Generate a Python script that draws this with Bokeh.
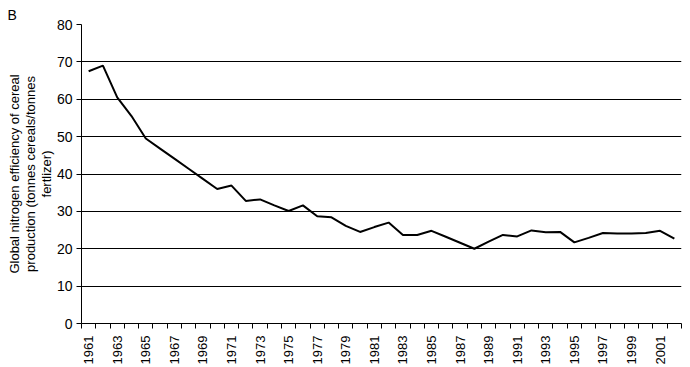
from bokeh.plotting import figure
from bokeh.models import FixedTicker, Range1d
from bokeh.embed import file_html
from bokeh.resources import INLINE
import math

years = list(range(1961, 2003))
efficiency = [67.5, 69.0, 60.5, 55.5, 49.5, 46.8, 44.1, 41.4, 38.7, 36.0,
              36.9, 32.8, 33.2, 31.6, 30.1, 31.6, 28.7, 28.4, 26.1, 24.5,
              25.8, 27.0, 23.7, 23.7, 24.8, 23.2, 21.6, 20.0, 21.9, 23.7,
              23.3, 24.9, 24.4, 24.5, 21.7, 22.9, 24.2, 24.1, 24.1, 24.2,
              24.8, 22.7]
y_ticks = [0, 10, 20, 30, 40, 50, 60, 70, 80]
x_label_years = [y for y in years if y % 2 == 1]

FONT = "Liberation Sans"

p = figure(width=690, height=367, output_backend="svg", toolbar_location=None,
           x_range=Range1d(years[0] - 0.5, years[-1] + 0.5),
           y_range=Range1d(0, 80),
           min_border_left=81, min_border_right=9, min_border_top=24,
           min_border_bottom=43)
p.outline_line_color = None
p.background_fill_color = "white"
p.border_fill_color = "white"

p.line(years, efficiency, line_color="black", line_width=2)

p.xaxis.ticker = FixedTicker(ticks=x_label_years,
                             minor_ticks=[y - 0.5 for y in years] + [years[-1] + 0.5])
p.xaxis.major_label_orientation = math.pi / 2
p.xaxis.major_tick_line_color = None
p.xaxis.major_tick_out = 5
p.xaxis.major_tick_in = 0
p.xaxis.minor_tick_line_color = "black"
p.xaxis.minor_tick_out = 5
p.xaxis.minor_tick_in = 0
p.xaxis.major_label_standoff = 7
p.xaxis.major_label_text_font = FONT
p.xaxis.major_label_text_font_size = "13px"
p.xaxis.major_label_text_color = "black"
p.xaxis.axis_line_color = "black"
p.xgrid.visible = False

p.yaxis.ticker = FixedTicker(ticks=y_ticks)
p.yaxis.major_tick_out = 5
p.yaxis.major_tick_in = 0
p.yaxis.minor_tick_line_color = None
p.yaxis.major_tick_line_color = "black"
p.yaxis.axis_line_color = "black"
p.yaxis.major_label_standoff = 4
p.yaxis.major_label_text_font = FONT
p.yaxis.major_label_text_font_size = "14px"
p.yaxis.major_label_text_color = "black"
p.yaxis.axis_label = "Global nitrogen efficiency of cereal\nproduction (tonnes cereals/tonnes\nfertlizer)"
p.yaxis.axis_label_text_font = FONT
p.yaxis.axis_label_text_font_size = "13px"
p.yaxis.axis_label_text_line_height = 1.05
p.yaxis.axis_label_text_font_style = "normal"
p.yaxis.axis_label_text_color = "black"
p.yaxis.axis_label_standoff = 0
p.ygrid.grid_line_color = "black"
p.ygrid.grid_line_width = 1

p.title.text = "B"
p.title.align = "left"
p.title.vertical_align = "top"
p.title.offset = -74
p.title.standoff = 0
p.title.text_font = FONT
p.title.text_font_size = "14px"
p.title.text_font_style = "normal"
p.title.text_color = "black"

open("out.html", "w").write(file_html(p, INLINE))
